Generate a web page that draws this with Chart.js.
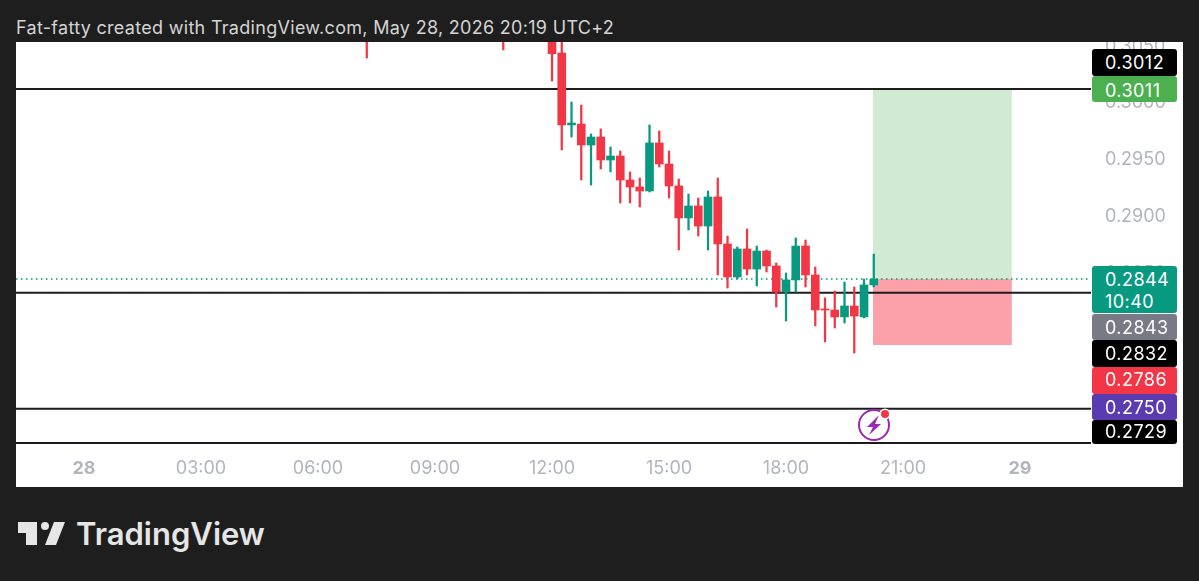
<!DOCTYPE html>
<html>
<head>
<meta charset="utf-8">
<title>TradingView chart</title>
<script src="https://cdn.jsdelivr.net/npm/chart.js@4"></script>
<style>
    html, body { margin: 0; padding: 0; width: 1199px; height: 581px; overflow: hidden; background: #1e1e1e; }
    body { position: relative; font-family: Inter, "Noto Sans", sans-serif; }
    #header { position: absolute; left: 16px; top: 17px; font-size: 18px; line-height: 22px; letter-spacing: 0.3px; color: #d4d4d4; white-space: nowrap; }
    #pane { position: absolute; left: 16px; top: 42px; width: 1167px; height: 445px; background: #fff; overflow: hidden; }
    #priceChart { display: block; }
    .badge { position: absolute; left: 1076px; width: 85px; color: #fff; font-size: 18px; line-height: 22px; padding-left: 13px; box-sizing: border-box; border-radius: 3px; letter-spacing: 0.45px; }
    #flash { position: absolute; left: 0; top: 0; }
    #logoText { position: absolute; left: 76px; top: 514px; font-size: 31px; line-height: 40px; font-weight: 600; color: #e6e6e6; white-space: nowrap; }
    #logoMark { position: absolute; left: 0; top: 500px; }
</style>
</head>
<body>
<div id="header">Fat-fatty created with TradingView.com, May 28, 2026 20:19 UTC+2</div>
<div id="pane"><canvas id="priceChart" width="1167" height="445"></canvas></div>
<svg id="logoMark" width="70" height="60">
    <path d="M18 22H37V45H26V33H18Z M54 22H65L56 45H45Z" fill="#e6e6e6"/>
    <circle cx="45" cy="26" r="4" fill="#e6e6e6"/>
</svg>
<div id="logoText">TradingView</div>
<svg id="flash" width="1199" height="581" style="pointer-events:none">
    <circle cx="874" cy="425" r="15" fill="#fff" stroke="#9c27b0" stroke-width="2"/>
    <path d="M879 415L867 427H873L869 435L881 424H875Z" fill="#9c27b0"/>
    <circle cx="885" cy="414" r="5.5" fill="#fff"/>
    <circle cx="885" cy="414" r="4" fill="#f23645"/>
</svg>

<script>
// Velas de 15 minutos, hora del dia 28
const candleHours = [7.25, 10.75, 12, 12.25, 12.5, 12.75, 13, 13.25, 13.5, 13.75, 14, 14.25, 14.5, 14.75, 15, 15.25, 15.5, 15.75, 16, 16.25, 16.5, 16.75, 17, 17.25, 17.5, 17.75, 18, 18.25, 18.5, 18.75, 19, 19.25, 19.5, 19.75, 20, 20.25];
const opens = [0.3060, 0.3058, 0.3060, 0.30426, 0.29794, 0.29802, 0.29618, 0.29688, 0.29486, 0.29521, 0.29310, 0.29249, 0.29214, 0.29636, 0.29451, 0.29258, 0.28977, 0.29082, 0.28906, 0.29161, 0.28748, 0.28458, 0.28704, 0.28528, 0.28686, 0.28555, 0.28326, 0.28432, 0.28730, 0.28476, 0.28177, 0.28168, 0.28107, 0.28203, 0.28107, 0.28388];
const highs = [0.3062, 0.3060, 0.3062, 0.3060, 0.29996, 0.29969, 0.29715, 0.29759, 0.29600, 0.29565, 0.29381, 0.29328, 0.29794, 0.29741, 0.29565, 0.29319, 0.29187, 0.29152, 0.29214, 0.29328, 0.28818, 0.28722, 0.28880, 0.28730, 0.28695, 0.28581, 0.28493, 0.28801, 0.28783, 0.28546, 0.28274, 0.28335, 0.28414, 0.28370, 0.28440, 0.28660];
const lows = [0.30382, 0.30453, 0.30180, 0.29574, 0.29688, 0.29310, 0.29266, 0.29407, 0.29381, 0.29108, 0.29108, 0.29073, 0.29205, 0.29425, 0.29152, 0.28695, 0.28871, 0.28818, 0.28695, 0.28476, 0.28361, 0.28440, 0.28476, 0.28379, 0.28502, 0.28194, 0.28071, 0.28326, 0.28370, 0.28028, 0.27887, 0.28010, 0.28054, 0.27790, 0.28098, 0.28370];
const closes = [0.3058, 0.3056, 0.30420, 0.29794, 0.29811, 0.29618, 0.29688, 0.29486, 0.29521, 0.29310, 0.29249, 0.29214, 0.29636, 0.29451, 0.29258, 0.28977, 0.29082, 0.28906, 0.29161, 0.28748, 0.28458, 0.28704, 0.28528, 0.28686, 0.28555, 0.28326, 0.28432, 0.28730, 0.28476, 0.28168, 0.28168, 0.28107, 0.28203, 0.28115, 0.28388, 0.28440];

// Ejes
const timeTicks = [0, 3, 6, 9, 12, 15, 18, 21, 24];
const timeLabels = ['28', '03:00', '06:00', '09:00', '12:00', '15:00', '18:00', '21:00', '29'];
const priceTicks = [0.2750, 0.2800, 0.2850, 0.2900, 0.2950, 0.3000, 0.3050];
const priceTickLabels = ['0.2750', '0.2800', '0.2850', '0.2900', '0.2950', '0.3000', '0.3050'];
const hourMin = -1.7436;
const hourMax = 25.82;
const priceMin = 0.2692;
const priceMax = 0.30523;

// Lineas horizontales y posicion larga
const levelLines = [0.3011, 0.2832, 0.2730, 0.2700];
const lastPrice = 0.2844;
const boxStart = 20.23;
const boxEnd = 23.79;
const targetPrice = 0.3011;
const entryPrice = 0.2844;
const stopPrice = 0.2786;

// Etiquetas del eje de precios
const badgeTexts = ['0.3012', '0.3011', '0.2844<br>10:40', '0.2843', '0.2832', '0.2786', '0.2750', '0.2729'];
const badgeColors = ['#000000', '#4caf50', '#089981', '#787b86', '#000000', '#f23645', '#5b3bb0', '#000000'];
const badgeTops = [49, 76, 266, 314, 340, 367, 394, 420];
const badgeHeights = [27, 26, 47, 26, 27, 27, 26, 24];
const badgeTextShift = [3, 4, 3, 3, 3, 2, 3, 1];

const pane = document.getElementById('pane');
badgeTexts.forEach((text, i) => {
    const badge = document.createElement('div');
    badge.className = 'badge';
    badge.innerHTML = text;
    badge.style.top = (badgeTops[i] - 42) + 'px';
    badge.style.height = badgeHeights[i] + 'px';
    badge.style.background = badgeColors[i];
    badge.style.paddingTop = badgeTextShift[i] + 'px';
    pane.appendChild(badge);
});

function candleColor(i) {
    return closes[i] >= opens[i] ? '#089981' : '#f23645';
}

// Dibuja la caja de objetivo y stop debajo de las velas
const positionBox = {
    id: 'positionBox',
    beforeDatasetsDraw(chart) {
        const { ctx, scales } = chart;
        const left = scales.x.getPixelForValue(boxStart);
        const right = scales.x.getPixelForValue(boxEnd);
        const target = scales.y.getPixelForValue(targetPrice);
        const entry = scales.y.getPixelForValue(entryPrice);
        const stop = scales.y.getPixelForValue(stopPrice);
        ctx.save();
        ctx.fillStyle = '#d0ead3';
        ctx.fillRect(left, target, right - left, entry - target);
        ctx.fillStyle = '#fca1a9';
        ctx.fillRect(left, entry, right - left, stop - entry);
        ctx.restore();
    }
};

const lineDatasets = levelLines.map(price => ({
    type: 'line',
    data: [{ x: hourMin, y: price }, { x: hourMax, y: price }],
    borderColor: '#1c1c1c',
    borderWidth: 2,
    pointRadius: 0,
    order: 2
}));

new Chart(document.getElementById('priceChart').getContext('2d'), {
    type: 'bar',
    plugins: [positionBox],
    data: {
        datasets: [
            {
                data: candleHours.map((h, i) => ({ x: h, y: [opens[i], closes[i]] })),
                backgroundColor: candleHours.map((h, i) => candleColor(i)),
                barThickness: 8,
                grouped: false,
                order: 0
            },
            {
                data: candleHours.map((h, i) => ({ x: h, y: [lows[i], highs[i]] })),
                backgroundColor: candleHours.map((h, i) => candleColor(i)),
                barThickness: 1.6,
                grouped: false,
                order: 1
            },
            ...lineDatasets,
            {
                type: 'line',
                data: [{ x: hourMin, y: lastPrice }, { x: hourMax, y: lastPrice }],
                borderColor: '#089981',
                borderWidth: 1.5,
                borderDash: [1.5, 3.5],
                pointRadius: 0,
                order: 2
            }
        ]
    },
    options: {
        responsive: false,
        animation: false,
        layout: { padding: 0, autoPadding: false },
        plugins: { legend: { display: false }, tooltip: { enabled: false } },
        scales: {
            x: {
                type: 'linear',
                offset: false,
                min: hourMin,
                max: hourMax,
                grid: { display: false, drawTicks: false, offset: false },
                border: { display: false },
                afterBuildTicks: scale => { scale.ticks = timeTicks.map(v => ({ value: v })); },
                afterFit: scale => {
                    scale.height = 35;
                    scale.paddingLeft = 0;
                    scale.paddingRight = 0;
                },
                ticks: {
                    autoSkip: false,
                    maxRotation: 0,
                    padding: 6,
                    color: '#b2b5be',
                    font: ctx => ({
                        family: 'Inter',
                        size: 18,
                        weight: ctx.tick && ctx.tick.value % 24 === 0 ? '700' : '400'
                    }),
                    callback: value => timeLabels[timeTicks.indexOf(value)]
                }
            },
            y: {
                position: 'right',
                min: priceMin,
                max: priceMax,
                grid: { display: false, drawTicks: false },
                border: { display: false },
                afterBuildTicks: scale => { scale.ticks = priceTicks.map(v => ({ value: v })); },
                afterFit: scale => {
                    scale.width = 92;
                    scale.paddingTop = 0;
                    scale.paddingBottom = 0;
                },
                ticks: {
                    padding: 14,
                    labelOffset: 1.5,
                    color: '#b2b5be',
                    font: { family: 'Inter', size: 18 },
                    callback: value => priceTickLabels[priceTicks.indexOf(value)]
                }
            }
        }
    }
});
</script>
</body>
</html>
